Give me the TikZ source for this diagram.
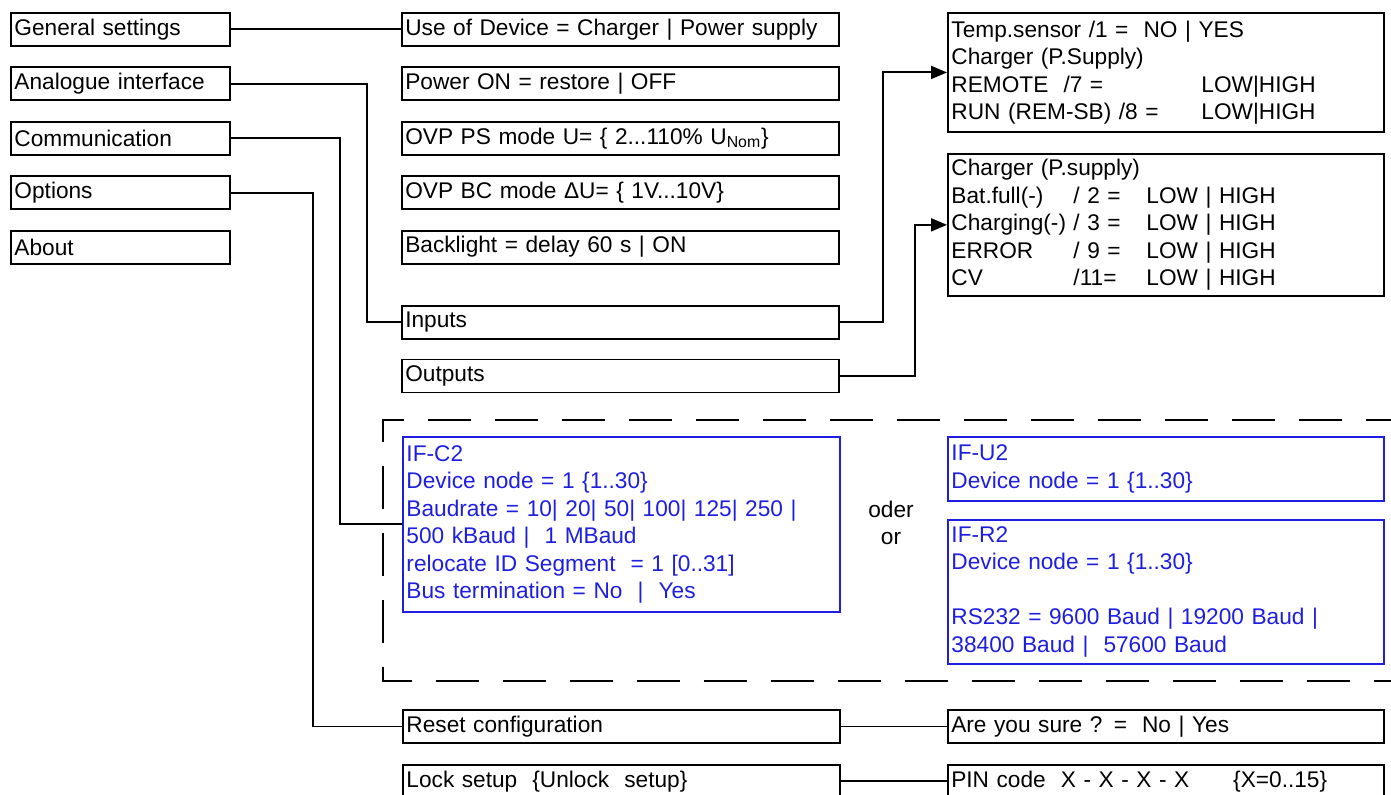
\documentclass[tikz,border=0pt]{standalone}
\usepackage{fontspec}
\setmainfont{Liberation Sans}
\usetikzlibrary{positioning,arrows.meta}
\definecolor{ifblue}{RGB}{30,30,225}
\newcommand{\sigrow}[3]{\makebox[2.44cm][l]{#1}\makebox[1.46cm][l]{#2}#3}

\begin{document}
\begin{tikzpicture}[
      x=0.02cm, y=-0.02cm,
      font=\fontsize{12.9pt}{15.65pt}\selectfont,
      line width=1.1pt,
      >={Triangle[length=0.32cm,width=0.26cm]},
      node distance=0.39cm and 3.40cm,
      box/.style={draw, line width=1.1pt, inner xsep=0.07cm, inner ysep=0pt, align=left, minimum height=0.66cm},
      menu/.style={box, text width=4.24cm},
      entry/.style={box, text width=8.60cm},
      detail/.style={box, text width=8.58cm},
      iface/.style={detail, draw=ifblue, text=ifblue},
      optframe/.style={dash pattern=on 0.86cm off 0.48cm, dash phase=0.92cm}
  ]
    \useasboundingbox (0,0) rectangle (1391,794);

    % main menu
    \node[menu, anchor=north west] (gen) at (10,12) {General settings};
    \node[menu, below=of gen] (ana) {Analogue interface};
    \node[menu, below=of ana] (com) {Communication};
    \node[menu, below=of com] (opt) {Options};
    \node[menu, below=of opt] (about) {About};

    % general settings
    \node[entry, right=of gen] (use) {Use of Device = Charger | Power supply};
    \node[entry, below=of use] (pwr) {Power ON = restore | OFF};
    \node[entry, below=of pwr] (ovpps) {OVP PS mode U= \{ 2...110\% U\textsubscript{Nom}\}};
    \node[entry, below=of ovpps] (ovpbc) {OVP BC mode ΔU= \{ 1V...10V\}};
    \node[entry, below=of ovpbc] (back) {Backlight = delay 60 s | ON};

    % analogue interface
    \node[entry, below=0.80cm of back] (inp) {Inputs};
    \node[entry, below=0.38cm of inp] (outp) {Outputs};

    \node[detail, anchor=north west, minimum height=2.38cm] (temp) at (947,12)
      {Temp.sensor /1 =\ \ NO | YES\\
       Charger (P.Supply)\\
       \makebox[5cm][l]{REMOTE\ \ /7 =}LOW|HIGH\\
       \makebox[5cm][l]{RUN (REM-SB) /8 =}LOW|HIGH};
    \node[detail, below=0.40cm of temp, minimum height=2.84cm] (chg)
      {Charger (P.supply)\\
       \sigrow{Bat.full(-)}{/ 2 =}{LOW | HIGH}\\
       \sigrow{Charging(-)}{/ 3 =}{LOW | HIGH}\\
       \sigrow{ERROR}{/ 9 =}{LOW | HIGH}\\
       \sigrow{CV}{/11=}{LOW | HIGH}};

    % communication
    \draw[optframe] (1430,420) -| (383,681) -- (1430,681);
    \node[iface, text width=8.60cm, anchor=north west, minimum height=3.5cm] (ifc) at (402,436)
      {IF-C2\\
       Device node = 1 \{1..30\}\\
       Baudrate = 10| 20| 50| 100| 125| 250 |\\
       500 kBaud |\ \ 1 MBaud\\
       relocate ID Segment\ \ = 1 [0..31]\\
       Bus termination = No\ \ |\ \ Yes};
    \node[align=center] (oder) at (891,523) {oder\\or};
    \node[iface, anchor=north west, minimum height=1.28cm] (ifu) at (947,436)
      {IF-U2\\
       Device node = 1 \{1..30\}};
    \node[iface, below=0.34cm of ifu, minimum height=2.88cm] (ifr)
      {IF-R2\\
       Device node = 1 \{1..30\}\\[15.65pt]
       RS232 = 9600 Baud | 19200 Baud |\\
       38400 Baud |\ \ 57600 Baud};

    % options
    \node[entry, anchor=north west] (reset) at (402,709) {Reset configuration};
    \node[entry, below=0.40cm of reset] (lock) {Lock setup\ \ \{Unlock\ \ setup\}};
    \node[detail, right=2.12cm of reset] (sure) {Are you sure ? =\ \ No | Yes};
    \node[detail, right=2.12cm of lock] (pin)
      {\makebox[5.64cm][l]{PIN code\ \ X - X - X - X}\{X=0..15\}};

    \draw (gen) -- (use);
    \draw (ana.east) -- ++(136,0) |- (inp.west);
    \draw (com.east) -- ++(109,0) |- (ifc.west);
    \draw (opt.east) -- ++(82,0) |- (reset.west);
    \draw[->] (inp.east) -- ++(43,0) |- (temp.west);
    \draw[->] (outp.east) -- ++(75,0) |- (chg.west);
    \draw (reset) -- (sure);
    \draw (lock) -- (pin);
  \end{tikzpicture}
\end{document}
